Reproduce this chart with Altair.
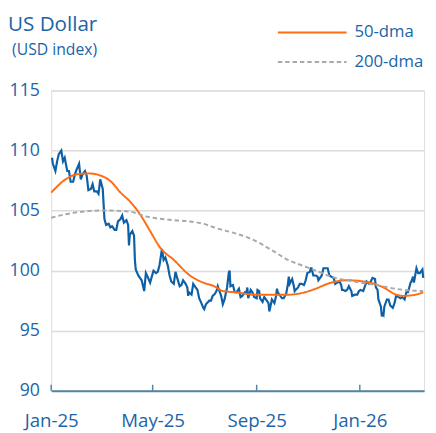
import altair as alt
import pandas as pd

# ---------------- data ----------------
usd_dates = [
    "2025-01-02", "2025-01-03", "2025-01-06", "2025-01-08", "2025-01-10", "2025-01-13", "2025-01-15",
    "2025-01-17", "2025-01-20", "2025-01-22", "2025-01-24", "2025-01-27", "2025-01-29", "2025-01-31",
    "2025-02-03", "2025-02-05", "2025-02-07", "2025-02-10", "2025-02-12", "2025-02-14", "2025-02-17",
    "2025-02-19", "2025-02-21", "2025-02-24", "2025-02-26", "2025-02-28", "2025-03-03", "2025-03-05",
    "2025-03-07", "2025-03-10", "2025-03-12", "2025-03-14", "2025-03-17", "2025-03-19", "2025-03-21",
    "2025-03-24", "2025-03-26", "2025-03-28", "2025-03-31", "2025-04-02", "2025-04-03", "2025-04-04",
    "2025-04-07", "2025-04-09", "2025-04-10", "2025-04-11", "2025-04-14", "2025-04-16", "2025-04-18",
    "2025-04-21", "2025-04-23", "2025-04-25", "2025-04-28", "2025-04-30", "2025-05-02", "2025-05-05",
    "2025-05-07", "2025-05-09", "2025-05-12", "2025-05-14", "2025-05-16", "2025-05-19", "2025-05-21",
    "2025-05-23", "2025-05-26", "2025-05-28", "2025-05-30", "2025-06-02", "2025-06-04", "2025-06-06",
    "2025-06-09", "2025-06-11", "2025-06-12", "2025-06-13", "2025-06-16", "2025-06-18", "2025-06-20",
    "2025-06-23", "2025-06-25", "2025-06-27", "2025-06-30", "2025-07-01", "2025-07-03", "2025-07-07",
    "2025-07-09", "2025-07-11", "2025-07-14", "2025-07-16", "2025-07-17", "2025-07-18", "2025-07-21",
    "2025-07-23", "2025-07-25", "2025-07-28", "2025-07-30", "2025-07-31", "2025-08-01", "2025-08-04",
    "2025-08-06", "2025-08-08", "2025-08-11", "2025-08-13", "2025-08-15", "2025-08-18", "2025-08-20",
    "2025-08-21", "2025-08-22", "2025-08-25", "2025-08-27", "2025-08-29", "2025-09-01", "2025-09-02",
    "2025-09-04", "2025-09-05", "2025-09-08", "2025-09-10", "2025-09-12", "2025-09-15", "2025-09-16",
    "2025-09-17", "2025-09-19", "2025-09-22", "2025-09-24", "2025-09-25", "2025-09-26", "2025-09-29",
    "2025-10-01", "2025-10-03", "2025-10-06", "2025-10-08", "2025-10-09", "2025-10-10", "2025-10-13",
    "2025-10-15", "2025-10-16", "2025-10-17", "2025-10-20", "2025-10-22", "2025-10-24", "2025-10-27",
    "2025-10-29", "2025-10-31", "2025-11-03", "2025-11-04", "2025-11-05", "2025-11-07", "2025-11-10",
    "2025-11-12", "2025-11-13", "2025-11-14", "2025-11-17", "2025-11-19", "2025-11-21", "2025-11-24",
    "2025-11-26", "2025-11-28", "2025-12-01", "2025-12-03", "2025-12-05", "2025-12-08", "2025-12-10",
    "2025-12-11", "2025-12-12", "2025-12-15", "2025-12-17", "2025-12-19", "2025-12-22", "2025-12-23",
    "2025-12-26", "2025-12-29", "2025-12-31", "2026-01-02", "2026-01-05", "2026-01-07", "2026-01-09",
    "2026-01-12", "2026-01-14", "2026-01-16", "2026-01-19", "2026-01-20", "2026-01-22", "2026-01-23",
    "2026-01-26", "2026-01-27", "2026-01-28", "2026-01-29", "2026-01-30", "2026-02-02", "2026-02-04",
    "2026-02-06", "2026-02-09", "2026-02-11", "2026-02-13", "2026-02-16", "2026-02-18", "2026-02-20",
    "2026-02-23", "2026-02-25", "2026-02-27", "2026-03-02", "2026-03-03", "2026-03-05", "2026-03-06",
    "2026-03-09", "2026-03-11", "2026-03-13", "2026-03-16", "2026-03-17",
]
usd_values = [
    109.4, 108.9, 108.3, 109.1, 109.7, 110.0, 109.1,
    109.4, 108.3, 108.3, 107.4, 107.4, 108.0, 108.4,
    108.9, 107.6, 108.0, 108.3, 107.9, 106.7, 106.8,
    107.2, 106.6, 106.6, 106.4, 107.6, 106.8, 104.3,
    103.8, 103.9, 103.6, 103.7, 103.4, 103.4, 104.1,
    104.3, 104.6, 104.0, 104.2, 103.8, 102.1, 103.0,
    103.3, 102.9, 100.9, 100.1, 99.6, 99.4, 99.2,
    98.3, 99.8, 99.5, 99.0, 99.5, 100.0, 99.8,
    99.9, 100.4, 101.8, 100.9, 101.1, 100.4, 99.6,
    99.1, 98.9, 99.9, 99.4, 98.7, 98.8, 99.2,
    98.9, 98.6, 97.9, 98.2, 98.0, 98.9, 98.7,
    98.4, 97.7, 97.4, 96.9, 96.8, 97.2, 97.5,
    97.5, 97.9, 98.1, 98.4, 98.7, 98.5, 97.9,
    97.2, 97.6, 98.6, 99.8, 100.0, 98.7, 98.8,
    98.2, 98.2, 98.5, 97.8, 97.9, 98.2, 98.2,
    98.6, 97.7, 98.4, 98.2, 97.8, 97.7, 98.4,
    98.3, 97.7, 97.4, 97.8, 97.6, 97.3, 96.6,
    96.9, 97.6, 97.3, 97.9, 98.5, 98.2, 97.9,
    97.7, 97.7, 98.1, 98.9, 99.5, 98.9, 99.3,
    98.7, 98.3, 98.4, 98.6, 98.9, 98.9, 98.8,
    99.2, 99.8, 99.9, 100.2, 100.2, 99.6, 99.6,
    99.5, 99.2, 99.3, 99.6, 100.2, 100.2, 100.2,
    99.6, 99.5, 99.4, 98.9, 99.0, 99.1, 98.8,
    98.4, 98.4, 98.3, 98.4, 98.7, 98.3, 97.9,
    98.0, 98.0, 98.3, 98.4, 98.3, 98.7, 99.1,
    98.9, 99.1, 99.4, 99.3, 98.6, 98.4, 97.6,
    97.0, 96.2, 96.4, 96.3, 97.0, 97.6, 97.6,
    97.1, 96.9, 97.3, 97.9, 97.8, 97.7, 97.8,
    97.6, 98.2, 98.2, 99.0, 99.1, 99.5, 99.0,
    100.2, 99.8, 99.8, 100.1, 99.4,
]

dma50_dates = [
    "2025-01-01", "2025-01-18", "2025-01-30", "2025-02-14", "2025-03-01", "2025-03-13", "2025-03-24",
    "2025-04-05", "2025-04-16", "2025-04-28", "2025-05-10", "2025-05-26", "2025-06-14", "2025-06-30",
    "2025-07-13", "2025-07-23", "2025-08-07", "2025-08-30", "2025-10-08", "2025-10-28", "2025-11-08",
    "2025-11-28", "2025-12-17", "2026-01-13", "2026-01-29", "2026-02-13", "2026-02-21", "2026-03-08",
    "2026-03-17",
]
dma50_values = [
    106.5, 107.6, 108.0, 108.1, 107.9, 107.4, 106.5,
    105.7, 104.7, 103.3, 101.9, 100.9, 99.6, 99.0,
    98.7, 98.3, 98.2, 98.0, 98.0, 98.2, 98.45,
    99.0, 99.2, 99.0, 98.6, 98.0, 97.9, 98.0,
    98.2,
]

dma200_dates = [
    "2025-01-01", "2025-01-18", "2025-02-06", "2025-02-26", "2025-03-13", "2025-04-05", "2025-04-24",
    "2025-05-26", "2025-06-14", "2025-06-30", "2025-07-17", "2025-08-07", "2025-08-30", "2025-09-19",
    "2025-10-08", "2025-10-28", "2025-11-12", "2025-11-28", "2025-12-25", "2026-01-20", "2026-02-21",
    "2026-03-17",
]
dma200_values = [
    104.4, 104.7, 104.9, 105.0, 105.0, 104.9, 104.5,
    104.2, 104.1, 103.9, 103.5, 103.1, 102.5, 101.7,
    100.9, 100.35, 99.95, 99.5, 99.1, 98.8, 98.4,
    98.3,
]

series_names = ["50-dma", "200-dma"]
x_tick_dates = ["2025-01-01", "2025-05-01", "2025-09-01", "2026-01-01"]
y_tick_values = [90, 95, 100, 105, 110, 115]

# ---------------- styling ----------------
FONT = "Open Sans"
TEXT = "#1a64a8"
BLUE = "#0d5fa6"
ORANGE = "#ff6d12"
GRAY = "#a9a9a9"
AXIS = "#4f86a3"
GRID = "#dcdcdc"

usd_df = pd.DataFrame({"date": pd.to_datetime(usd_dates), "value": usd_values})
ma_df = pd.concat([
    pd.DataFrame({"date": pd.to_datetime(dma50_dates), "value": dma50_values, "series": series_names[0]}),
    pd.DataFrame({"date": pd.to_datetime(dma200_dates), "value": dma200_values, "series": series_names[1]}),
], ignore_index=True)
tick_df = pd.DataFrame({"date": pd.to_datetime(x_tick_dates)})

x_scale = alt.Scale(domain=[alt.DateTime(year=2025, month=1, date=1),
                            alt.DateTime(year=2026, month=3, date=18)])
y_scale = alt.Scale(domain=[90, 115], nice=False, zero=False)

x_axis = alt.Axis(
    title=None, format="%b-%y",
    values=[alt.DateTime(year=2025, month=1, date=1), alt.DateTime(year=2025, month=5, date=1),
            alt.DateTime(year=2025, month=9, date=1), alt.DateTime(year=2026, month=1, date=1)],
    grid=False, ticks=False, domain=True, domainColor=AXIS, domainWidth=2,
    labelFont=FONT, labelFontSize=19, labelColor=TEXT, labelPadding=21, labelFlush=False,
)
y_axis = alt.Axis(
    title=None, values=y_tick_values, grid=True, gridColor=GRID, gridWidth=1.5,
    domain=False, ticks=False, labelFont=FONT, labelFontSize=18, labelColor=TEXT,
    labelPadding=12, labelAlign="right", labelBaseline="middle",
)

legend = alt.Legend(
    title=None, orient="none", legendX=230, legendY=-68, direction="vertical",
    symbolType="stroke", symbolSize=4900, symbolStrokeWidth=2, clipHeight=18,
    labelFont=FONT, labelFontSize=17, labelColor=TEXT, labelOffset=7, rowPadding=12,
)

usd_line = alt.Chart(usd_df).mark_line(color=BLUE, strokeWidth=2.2, interpolate="linear").encode(
    x=alt.X("date:T", scale=x_scale, axis=x_axis),
    y=alt.Y("value:Q", scale=y_scale, axis=y_axis),
)

ma_lines = alt.Chart(ma_df).mark_line(strokeWidth=2, interpolate="monotone").encode(
    x=alt.X("date:T", scale=x_scale),
    y=alt.Y("value:Q", scale=y_scale),
    color=alt.Color("series:N", scale=alt.Scale(domain=series_names, range=[ORANGE, GRAY]), legend=legend),
    strokeDash=alt.StrokeDash("series:N", scale=alt.Scale(domain=series_names, range=[[1, 0], [4.5, 3]]),
                              legend=legend),
    detail="series:N",
)

tick_marks = alt.Chart(tick_df).mark_rule(color=AXIS, strokeWidth=1.5).encode(
    x=alt.X("date:T", scale=x_scale),
    y=alt.datum(90),
    y2=alt.datum(90.5),
)

chart = alt.layer(usd_line, ma_lines, tick_marks).properties(
    width=380, height=306,
    autosize=alt.AutoSizeParams(type="none"),
    padding={"left": 44, "top": 80, "right": 4, "bottom": 40},
    title=alt.TitleParams(
        text="US Dollar", subtitle="\u200b\u00a0(USD index)", anchor="start", frame="group",
        dx=-44, dy=35, offset=0, font=FONT, fontSize=21, fontWeight="normal", color=TEXT,
        subtitleFont=FONT, subtitleFontSize=16, subtitleColor=TEXT, subtitlePadding=8,
    ),
).configure_view(stroke=None).configure(background="white")

chart.save("out.html", embed_options={"renderer": "svg", "actions": False})
